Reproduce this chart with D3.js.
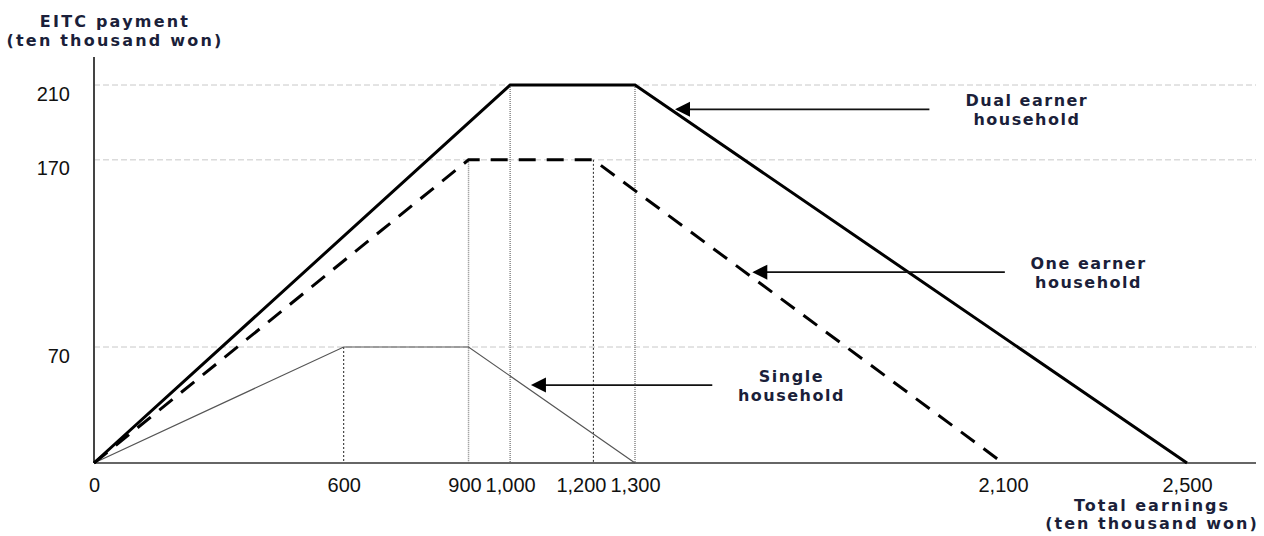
<!DOCTYPE html>
<html><head><meta charset="utf-8">
<script src="https://cdn.jsdelivr.net/npm/d3@7"></script>
<style>body{margin:0;background:#fff}</style>
</head><body><svg id="c" width="1264" height="536"></svg>
<script>
// ---- data ----
const xTicks = [0, 600, 900, 1000, 1200, 1300, 2100, 2500];
const yTicks = [70, 170, 210];
const dualX = [0, 1000, 1300, 2500];
const dualY = [0, 210, 210, 0];
const oneX = [0, 900, 1200, 2100];
const oneY = [0, 170, 170, 0];
const singleX = [0, 600, 900, 1300];
const singleY = [0, 70, 70, 0];
const guideX = [600, 900, 1000, 1200, 1300];
const guideTop = [70, 170, 210, 170, 210];
const guideDark = [true, false, false, true, false];
const annoLines = [["Dual earner", "household"], ["One earner", "household"], ["Single", "household"]];
const annoY = [197, 110, 47];
const annoTip = [1387, 1555, 1050];
const annoTail = [1940, 2104, 1468];
const annoText = [2152, 2286, 1640];

const svg = d3.select("#c");
const x = d3.scaleLinear().domain([0, 1300, 2500]).range([94, 635, 1187]);
const y = d3.scaleLinear().domain([0, 70, 210]).range([463, 347, 85]);
const xEnd = 1256;
const boldFont = "DejaVu Sans, sans-serif";
const textCol = "#1b1f3a";

// gridlines
svg.append("g").selectAll("line").data(yTicks).join("line")
  .attr("x1", x(0)).attr("x2", xEnd).attr("y1", d => y(d)).attr("y2", d => y(d))
  .attr("stroke", "#c8c8c8").attr("stroke-width", 1).attr("stroke-dasharray", "6,3");

// guide dotted verticals
svg.append("g").selectAll("line").data(guideX).join("line")
  .attr("x1", d => x(d)).attr("x2", d => x(d))
  .attr("y1", (d, i) => y(guideTop[i])).attr("y2", y(0))
  .attr("stroke", (d, i) => guideDark[i] ? "#222" : "#888")
  .attr("stroke-width", (d, i) => guideDark[i] ? 1 : 1.5)
  .attr("stroke-dasharray", (d, i) => guideDark[i] ? "2,2" : "1,1");

// axes
const yAxis = d3.axisLeft(y).tickValues(yTicks).tickSize(0).tickPadding(24);
const gy = svg.append("g").attr("transform", `translate(${x(0)},0)`).call(yAxis);
gy.select(".domain").remove();
gy.selectAll("text").attr("font-family", "Liberation Sans, Arial, sans-serif").attr("font-size", 20).attr("fill", "#111").attr("dy", "0.75em");
svg.append("line").attr("x1", x(0)).attr("x2", x(0)).attr("y1", 57).attr("y2", y(0))
  .attr("stroke", "#444").attr("stroke-width", 2);

const xAxis = d3.axisBottom(x).tickValues(xTicks).tickSize(0).tickPadding(15).tickFormat(d3.format(","));
const gx = svg.append("g").attr("transform", `translate(0,${y(0)})`).call(xAxis);
gx.select(".domain").remove();
gx.selectAll("text").attr("font-family", "Liberation Sans, Arial, sans-serif").attr("font-size", 20).attr("fill", "#111");
// resolve overlapping tick labels by nudging left
(function () {
  const nodes = gx.selectAll(".tick").nodes();
  const info = nodes.map(n => {
    const t = d3.select(n).select("text").node();
    return { t, w: t.getComputedTextLength(), shift: 0 };
  });
  const pos = xTicks.map(v => x(v));
  for (let i = info.length - 2; i >= 0; i--) {
    const rightEdge = pos[i] + info[i].shift + info[i].w / 2;
    const nextLeft = pos[i + 1] + info[i + 1].shift - info[i + 1].w / 2;
    const gap = 4;
    if (rightEdge + gap > nextLeft) info[i].shift -= (rightEdge + gap - nextLeft);
  }
  info.forEach(d => d3.select(d.t).attr("x", d.shift));
})();
svg.append("line").attr("x1", x(0)).attr("x2", xEnd).attr("y1", y(0)).attr("y2", y(0))
  .attr("stroke", "#666").attr("stroke-width", 2);

// series lines
const line = d3.line().x(d => x(d[0])).y(d => y(d[1]));
svg.append("path").datum(singleX.map((v, i) => [v, singleY[i]])).attr("d", line)
  .attr("fill", "none").attr("stroke", "#555").attr("stroke-width", 1.2);
svg.append("path").datum(oneX.map((v, i) => [v, oneY[i]])).attr("d", line)
  .attr("fill", "none").attr("stroke", "#000").attr("stroke-width", 3).attr("stroke-dasharray", "17,11");
svg.append("path").datum(dualX.map((v, i) => [v, dualY[i]])).attr("d", line)
  .attr("fill", "none").attr("stroke", "#000").attr("stroke-width", 3);

// annotations with arrows
annoLines.forEach((lines, i) => {
  const ay = y(annoY[i]);
  svg.append("line").attr("x1", x(annoTail[i])).attr("x2", x(annoTip[i]) + 2)
    .attr("y1", ay).attr("y2", ay)
    .attr("stroke", "#111").attr("stroke-width", 1.6);
  svg.append("path").attr("d", `M${x(annoTip[i])},${ay} l15,-7.5 l0,15 Z`).attr("fill", "#000");
  const t = svg.append("text").attr("y", ay - 3)
    .attr("text-anchor", "middle").attr("font-family", boldFont)
    .attr("font-weight", "bold").attr("font-size", 16).attr("letter-spacing", 1.5).attr("fill", textCol);
  lines.forEach((l, j) => t.append("tspan").attr("x", x(annoText[i])).attr("dy", j ? 19 : 0).text(l));
});

// axis titles
const yt = svg.append("text").attr("text-anchor", "middle").attr("font-family", boldFont)
  .attr("font-weight", "bold").attr("font-size", 16).attr("letter-spacing", 2.2).attr("fill", textCol);
yt.append("tspan").attr("x", 115).attr("y", 27).text("EITC payment");
yt.append("tspan").attr("x", 115).attr("y", 46).text("(ten thousand won)");
const xt = svg.append("text").attr("text-anchor", "middle").attr("font-family", boldFont)
  .attr("font-weight", "bold").attr("font-size", 16).attr("letter-spacing", 2).attr("fill", textCol);
xt.append("tspan").attr("x", 1152).attr("y", 511).text("Total earnings");
xt.append("tspan").attr("x", 1152).attr("y", 529).text("(ten thousand won)");
</script></body></html>
